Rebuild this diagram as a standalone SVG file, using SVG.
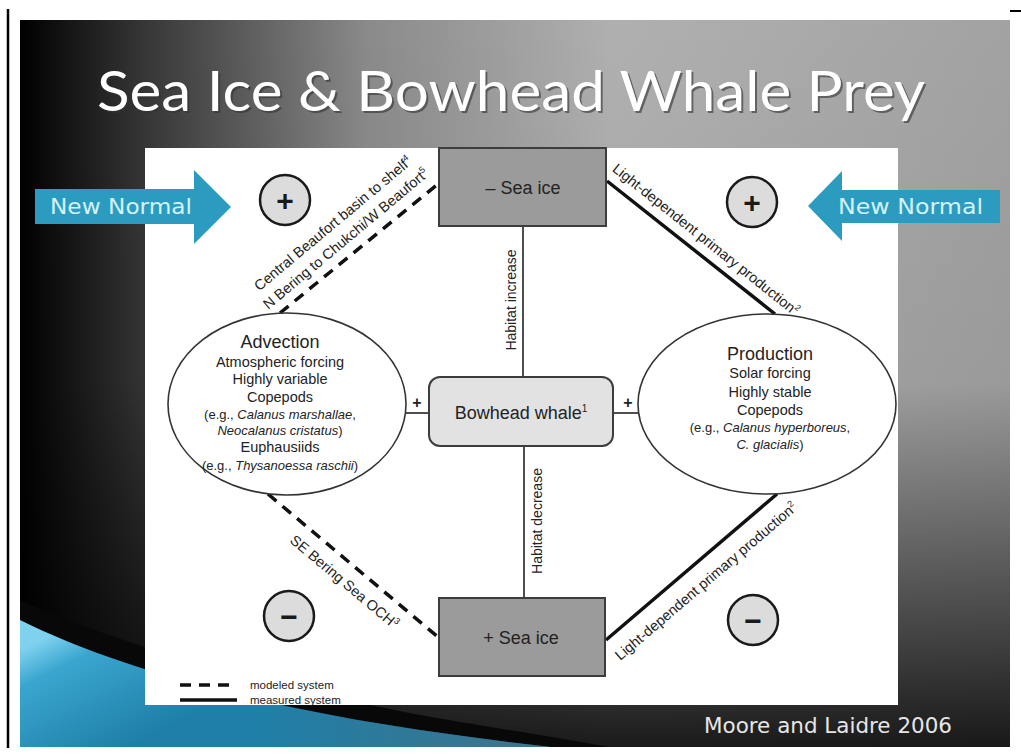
<svg xmlns="http://www.w3.org/2000/svg" width="1021" height="755" viewBox="0 0 1021 755">
<defs>
<style>
.t{font-family:"Liberation Sans",Arial,Helvetica,sans-serif;fill:#232323;}
.it{font-style:italic;}
.box{fill:#9b9b9b;stroke:#3d3d3d;stroke-width:2;}
.whale{fill:#e2e2e2;stroke:#3d3d3d;stroke-width:2;}
.ell{fill:#fff;stroke:#333;stroke-width:1.6;}
.dash{stroke:#111;stroke-width:3.5;stroke-dasharray:11 8;fill:none;}
.solid{stroke:#111;stroke-width:3.5;fill:none;}
.thin{stroke:#222;stroke-width:1.6;fill:none;}
.sign{fill:#dcdcdc;stroke:#1a1a1a;stroke-width:2.5;}
.signtxt{font-family:"Liberation Sans",Arial,sans-serif;font-weight:bold;fill:#1a1a1a;font-size:30px;text-anchor:middle;}
.arrow{fill:#2b9cc0;}
.nn{font-family:"DejaVu Sans",Verdana,sans-serif;font-size:22px;fill:#d6f2f9;}
</style>
<linearGradient id="bgH" x1="20" y1="0" x2="1010" y2="0" gradientUnits="userSpaceOnUse">
<stop offset="0" stop-color="#000"/>
<stop offset="0.13" stop-color="#383838"/>
<stop offset="0.35" stop-color="#8a8a8a"/>
<stop offset="0.6" stop-color="#b0b0b0"/>
<stop offset="1" stop-color="#a2a2a2"/>
</linearGradient>
<linearGradient id="bgV" x1="0" y1="20" x2="0" y2="747" gradientUnits="userSpaceOnUse">
<stop offset="0" stop-color="#000" stop-opacity="0"/>
<stop offset="0.5" stop-color="#000" stop-opacity="0.05"/>
<stop offset="0.85" stop-color="#000" stop-opacity="0.6"/>
<stop offset="1" stop-color="#000" stop-opacity="0.85"/>
</linearGradient>
<linearGradient id="teal" x1="60" y1="630" x2="120" y2="750" gradientUnits="userSpaceOnUse">
<stop offset="0" stop-color="#7fd2ee"/>
<stop offset="0.25" stop-color="#3aa6cf"/>
<stop offset="1" stop-color="#1f7fa8"/>
</linearGradient>
<linearGradient id="tealFade" x1="250" y1="0" x2="660" y2="0" gradientUnits="userSpaceOnUse">
<stop offset="0" stop-color="#4d6e7c" stop-opacity="0"/>
<stop offset="1" stop-color="#4d6e7c" stop-opacity="0.9"/>
</linearGradient>
<clipPath id="slide"><rect x="20" y="20" width="990" height="727"/></clipPath>
</defs>

<rect width="1021" height="755" fill="#fff"/>
<line x1="8" y1="9" x2="8" y2="748" stroke="#000" stroke-width="2.5"/>
<line x1="1010" y1="11" x2="1021" y2="11" stroke="#000" stroke-width="2"/>

<g id="slide-bg" clip-path="url(#slide)">
<rect x="20" y="20" width="990" height="727" fill="url(#bgH)"/>
<rect x="20" y="20" width="990" height="727" fill="url(#bgV)"/>
<path d="M20,600 C130,650 300,695 460,722 C540,735 600,745 680,760 L20,760 Z" fill="#080808"/>
<path d="M20,620 C110,665 250,705 420,730 C500,742 580,750 660,760 L20,760 Z" fill="url(#teal)"/>
<path d="M20,620 C110,665 250,705 420,730 C500,742 580,750 660,760 L20,760 Z" fill="url(#tealFade)"/>
</g>

<g id="title">
<text x="99" y="113" font-family="Lato,'Open Sans',sans-serif" font-size="56" fill="#333" opacity="0.6" textLength="828" lengthAdjust="spacingAndGlyphs">Sea Ice &amp; Bowhead Whale Prey</text>
<text x="97" y="111" font-family="Lato,'Open Sans',sans-serif" font-size="56" fill="#fff" textLength="828" lengthAdjust="spacingAndGlyphs">Sea Ice &amp; Bowhead Whale Prey</text>
</g>

<rect id="figure" x="145" y="148" width="753" height="557" fill="#fff"/>

<g id="connectors">
<path class="dash" d="M280,313 L438,184"/>
<path class="solid" d="M607,181 L775,314"/>
<path class="dash" d="M268,494 L438,637"/>
<path class="solid" d="M606,640 L777,494"/>
<path class="thin" d="M523,226 L523,377"/>
<path class="thin" d="M524,446 L524,598"/>
<path class="thin" d="M405,413 L429,413"/>
<path class="thin" d="M613,413 L639,413"/>
<text class="t" x="417" y="408" font-size="16" font-weight="bold" text-anchor="middle">+</text>
<text class="t" x="628" y="408" font-size="16" font-weight="bold" text-anchor="middle">+</text>
<text class="t" transform="translate(516,300) rotate(-90)" font-size="14" text-anchor="middle">Habitat increase</text>
<text class="t" transform="translate(542,521) rotate(-90)" font-size="14" text-anchor="middle">Habitat decrease</text>
<g transform="translate(356,251) rotate(-39.9)">
<text class="t" x="0" y="-31" font-size="14.5" text-anchor="middle">Central Beaufort basin to shelf<tspan font-size="9" dy="-6">4</tspan></text>
<text class="t" x="0" y="-11" font-size="14.5" text-anchor="middle">N Bering to Chukchi/W Beaufort<tspan font-size="9" dy="-6">5</tspan></text>
</g>
<g transform="translate(696,252) rotate(38.6)">
<text class="t" x="0" y="-11" font-size="14.5" text-anchor="middle">Light-dependent primary production<tspan font-size="9" dy="-6">2</tspan></text>
</g>
<g transform="translate(356,568) rotate(40.1)">
<text class="t" x="0" y="23" font-size="14.5" text-anchor="middle">SE Bering Sea OCH<tspan font-size="9" dy="-6">3</tspan></text>
</g>
<g transform="translate(693,566) rotate(-40.5)">
<text class="t" x="0" y="25" font-size="14.5" text-anchor="middle">Light-dependent primary production<tspan font-size="9" dy="-6">2</tspan></text>
</g>
</g>

<g id="node-minus-sea-ice">
<rect class="box" x="439" y="148" width="167" height="78"/>
<text class="t" x="523" y="194" font-size="18" text-anchor="middle">– Sea ice</text>
</g>

<g id="node-bowhead">
<rect class="whale" x="429" y="377" width="184" height="69" rx="11"/>
<text class="t" x="521" y="419" font-size="18" text-anchor="middle">Bowhead whale<tspan font-size="10" dy="-7">1</tspan></text>
</g>

<g id="node-plus-sea-ice">
<rect class="box" x="439" y="598" width="166" height="78"/>
<text class="t" x="521" y="644" font-size="18" text-anchor="middle">+ Sea ice</text>
</g>

<g id="node-advection">
<ellipse class="ell" cx="287" cy="404" rx="119" ry="91"/>
<text class="t" x="280" y="348" font-size="18" text-anchor="middle">Advection</text>
<text class="t" x="280" y="367" font-size="14.5" text-anchor="middle">Atmospheric forcing</text>
<text class="t" x="280" y="384" font-size="14.5" text-anchor="middle">Highly variable</text>
<text class="t" x="280" y="402" font-size="14.5" text-anchor="middle">Copepods</text>
<text class="t" x="280" y="419" font-size="13" text-anchor="middle">(e.g., <tspan class="it">Calanus marshallae</tspan>,</text>
<text class="t" x="280" y="435" font-size="13" text-anchor="middle"><tspan class="it">Neocalanus cristatus</tspan>)</text>
<text class="t" x="280" y="452" font-size="14.5" text-anchor="middle">Euphausiids</text>
<text class="t" x="280" y="470" font-size="13" text-anchor="middle">(e.g., <tspan class="it">Thysanoessa raschii</tspan>)</text>
</g>

<g id="node-production">
<ellipse class="ell" cx="767" cy="404" rx="129" ry="90"/>
<text class="t" x="770" y="360" font-size="18" text-anchor="middle">Production</text>
<text class="t" x="770" y="378" font-size="14.5" text-anchor="middle">Solar forcing</text>
<text class="t" x="770" y="397" font-size="14.5" text-anchor="middle">Highly stable</text>
<text class="t" x="770" y="415" font-size="14.5" text-anchor="middle">Copepods</text>
<text class="t" x="770" y="432" font-size="13" text-anchor="middle">(e.g., <tspan class="it">Calanus hyperboreus</tspan>,</text>
<text class="t" x="770" y="449" font-size="13" text-anchor="middle"><tspan class="it">C. glacialis</tspan>)</text>
</g>

<g id="sign-top-left">
<circle class="sign" cx="285" cy="200" r="25"/>
<text class="signtxt" x="285" y="211">+</text>
</g>
<g id="sign-top-right">
<circle class="sign" cx="752" cy="202" r="25"/>
<text class="signtxt" x="752" y="213">+</text>
</g>
<g id="sign-bottom-left">
<circle class="sign" cx="289" cy="616" r="25"/>
<text class="signtxt" x="289" y="627">−</text>
</g>
<g id="sign-bottom-right">
<circle class="sign" cx="753" cy="620" r="25"/>
<text class="signtxt" x="753" y="631">−</text>
</g>

<g id="arrow-left">
<path class="arrow" d="M35,189 L194,189 L194,170 L231,207 L194,244 L194,224 L35,224 Z"/>
<text class="nn" x="50" y="214" textLength="142" lengthAdjust="spacingAndGlyphs">New Normal</text>
</g>
<g id="arrow-right">
<path class="arrow" d="M1000,190 L842,190 L842,171 L808,206 L842,241 L842,223 L1000,223 Z"/>
<text class="nn" x="838" y="214" textLength="145" lengthAdjust="spacingAndGlyphs">New Normal</text>
</g>

<g id="legend">
<line x1="180" y1="685" x2="237" y2="685" class="dash" stroke-dasharray="10 7"/>
<line x1="180" y1="700" x2="237" y2="700" class="solid"/>
<text class="t" x="250" y="689" font-size="11.5" fill="#444">modeled system</text>
<text class="t" x="250" y="704" font-size="11.5" fill="#444">measured system</text>
</g>

<text id="citation" x="704" y="733" font-family="'DejaVu Sans',Verdana,sans-serif" font-size="21" fill="#e6e6e6" textLength="248" lengthAdjust="spacingAndGlyphs">Moore and Laidre 2006</text>
</svg>
